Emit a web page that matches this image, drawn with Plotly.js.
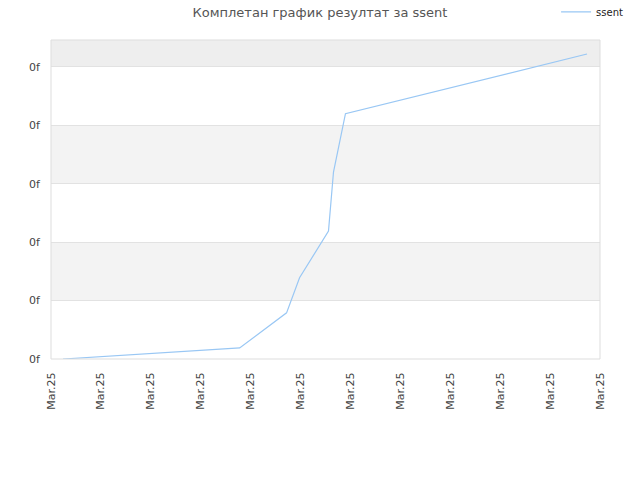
<!DOCTYPE html>
<html>
<head>
<meta charset="utf-8">
<script src="https://cdn.plot.ly/plotly-3.0.1.min.js"></script>
<style>
  html, body { margin: 0; padding: 0; background: #fff; }
  #chart { width: 640px; height: 480px; }
</style>
</head>
<body>
<div id="chart"></div>
<script>
// values (x in tick units, y in grid units)
const xValues = [0.24, 3.78, 4.72, 4.98, 5.56, 5.66, 5.9, 10.74];
const yValues = [0, 0.19, 0.79, 1.39, 2.19, 3.2, 4.2, 5.22];
const xTickLabels = ["Mar.25", "Mar.25", "Mar.25", "Mar.25", "Mar.25", "Mar.25",
  "Mar.25", "Mar.25", "Mar.25", "Mar.25", "Mar.25", "Mar.25"];
const yTickLabels = ["0f", "0f", "0f", "0f", "0f", "0f"];
const yTop = 5.46;

const fontFamily = "DejaVu Sans, sans-serif";

// alternating background bands
const bandShapes = [];
for (let i = 0; i < yTickLabels.length; i++) {
  if (i % 2 == 0) continue;
  bandShapes.push({
    type: "rect",
    xref: "paper",
    yref: "y",
    x0: 0,
    x1: 1,
    y0: i,
    y1: Math.min(i + 1, yTop),
    fillcolor: i == yTickLabels.length - 1 ? "#eeeeee" : "#f3f3f3",
    line: { width: 0 },
    layer: "below",
  });
}

const data = [
  {
    type: "scatter",
    mode: "lines",
    name: "ssent",
    x: xValues,
    y: yValues,
    line: { color: "#99c7f4", width: 1.2 },
    hoverinfo: "none",
  },
];

const layout = {
  width: 640,
  height: 480,
  margin: { l: 51, r: 40, t: 40, b: 121, autoexpand: false },
  paper_bgcolor: "#ffffff",
  plot_bgcolor: "#ffffff",
  font: { family: fontFamily, size: 11, color: "#444444" },
  title: {
    text: "Комплетан график резултат за ssent",
    font: { family: fontFamily, size: 13, color: "#555555" },
    x: 0.5,
    xanchor: "center",
    y: 0.975,
    yanchor: "middle",
  },
  showlegend: true,
  legend: {
    x: 0.92,
    y: 1.088,
    xanchor: "left",
    yanchor: "middle",
    bgcolor: "rgba(0,0,0,0)",
    font: { family: fontFamily, size: 10, color: "#222222" },
  },
  shapes: bandShapes.concat([
    {
      type: "rect",
      xref: "paper",
      yref: "paper",
      x0: 0,
      x1: 1,
      y0: 0,
      y1: 1,
      line: { color: "#dddddd", width: 1 },
      layer: "above",
    },
  ]),
  xaxis: {
    range: [0, 11],
    tickmode: "array",
    tickvals: xTickLabels.map((_, i) => i),
    ticktext: xTickLabels,
    tickangle: -90,
    ticks: "outside",
    ticklen: 8,
    tickcolor: "rgba(0,0,0,0)",
    showgrid: false,
    zeroline: false,
    showline: false,
    tickfont: { family: fontFamily, size: 11, color: "#444444" },
  },
  yaxis: {
    range: [0, yTop],
    tickmode: "array",
    tickvals: yTickLabels.map((_, i) => i),
    ticktext: yTickLabels,
    ticks: "outside",
    ticklen: 8,
    tickcolor: "rgba(0,0,0,0)",
    showgrid: true,
    gridcolor: "#e2e2e2",
    gridwidth: 1,
    zeroline: false,
    showline: false,
    tickfont: { family: fontFamily, size: 11, color: "#444444" },
  },
};

Plotly.newPlot("chart", data, layout, { staticPlot: true, displayModeBar: false });
</script>
</body>
</html>
